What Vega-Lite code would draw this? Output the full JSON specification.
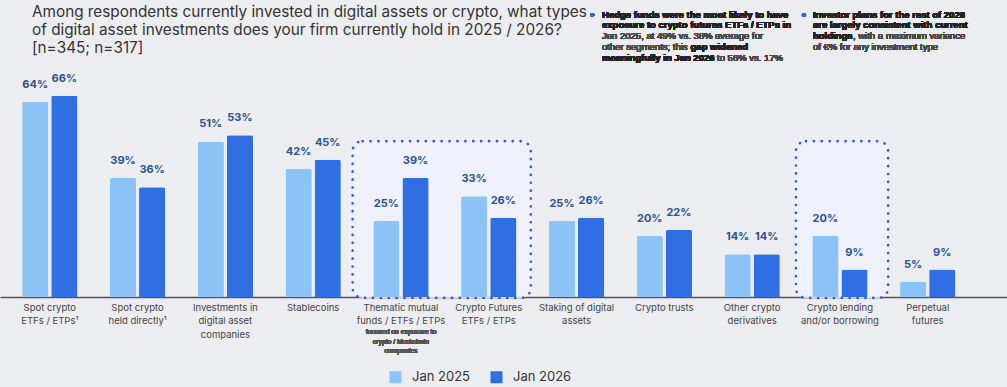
{
  "$schema": "https://vega.github.io/schema/vega-lite/v6.json",
  "width": 1007,
  "height": 213.5,
  "autosize": "none",
  "padding": {"top": 83.5, "left": 0, "right": 0, "bottom": 90},
  "background": "#ecedf0",
  "config": {"view": {"stroke": null}, "font": "Inter"},
  "title": {
    "text": ["Among respondents currently invested in digital assets or crypto, what types", "of digital asset investments does your firm currently hold in 2025 / 2026?", "[n=345; n=317]"],
    "anchor": "start",
    "frame": "group",
    "fontSize": 15.3,
    "fontWeight": "normal",
    "color": "#333333",
    "lineHeight": 18,
    "dx": 32,
    "dy": 58,
    "offset": 10
  },
  "data": {
    "values": [
      {"cat": "Spot crypto|ETFs / ETPs¹", "period": "Jan 2025", "value": 0.64},
      {"cat": "Spot crypto|ETFs / ETPs¹", "period": "Jan 2026", "value": 0.66},
      {"cat": "Spot crypto|held directly¹", "period": "Jan 2025", "value": 0.39},
      {"cat": "Spot crypto|held directly¹", "period": "Jan 2026", "value": 0.36},
      {"cat": "Investments in|digital asset|companies", "period": "Jan 2025", "value": 0.51},
      {"cat": "Investments in|digital asset|companies", "period": "Jan 2026", "value": 0.53},
      {"cat": "Stablecoins", "period": "Jan 2025", "value": 0.42},
      {"cat": "Stablecoins", "period": "Jan 2026", "value": 0.45},
      {"cat": "Thematic mutual|funds / ETFs / ETPs", "period": "Jan 2025", "value": 0.25},
      {"cat": "Thematic mutual|funds / ETFs / ETPs", "period": "Jan 2026", "value": 0.39},
      {"cat": "Crypto Futures|ETFs / ETPs", "period": "Jan 2025", "value": 0.33},
      {"cat": "Crypto Futures|ETFs / ETPs", "period": "Jan 2026", "value": 0.26},
      {"cat": "Staking of digital|assets", "period": "Jan 2025", "value": 0.25},
      {"cat": "Staking of digital|assets", "period": "Jan 2026", "value": 0.26},
      {"cat": "Crypto trusts", "period": "Jan 2025", "value": 0.20},
      {"cat": "Crypto trusts", "period": "Jan 2026", "value": 0.22},
      {"cat": "Other crypto|derivatives", "period": "Jan 2025", "value": 0.14},
      {"cat": "Other crypto|derivatives", "period": "Jan 2026", "value": 0.14},
      {"cat": "Crypto lending|and/or borrowing", "period": "Jan 2025", "value": 0.20},
      {"cat": "Crypto lending|and/or borrowing", "period": "Jan 2026", "value": 0.09},
      {"cat": "Perpetual|futures", "period": "Jan 2025", "value": 0.05},
      {"cat": "Perpetual|futures", "period": "Jan 2026", "value": 0.09}
    ]
  },
  "layer": [
    {
      "data": {"values": [{"x0": 3.95, "x1": 5.98}, {"x0": 9.0, "x1": 10.05}]},
      "mark": {"type": "rect", "fill": "#eef1fc", "fillOpacity": 0.85, "stroke": "#3552e0", "strokeWidth": 2.6, "strokeDash": [0.1, 7.8], "strokeCap": "round", "cornerRadius": 10},
      "encoding": {
        "x": {"field": "x0", "type": "quantitative", "scale": {"domain": [-0.0666, 11.404], "nice": false, "zero": false}, "axis": null},
        "x2": {"field": "x1"},
        "y": {"datum": 0.511, "type": "quantitative", "scale": {"domain": [0, 0.7], "nice": false}, "axis": null},
        "y2": {"datum": -0.003}
      }
    },
    {
      "encoding": {
        "x": {
          "field": "cat", "type": "nominal",
          "scale": {"type": "band", "paddingInner": 0.37, "paddingOuter": 0.42, "align": 0.3,
            "domain": ["Spot crypto|ETFs / ETPs¹", "Spot crypto|held directly¹", "Investments in|digital asset|companies", "Stablecoins", "Thematic mutual|funds / ETFs / ETPs", "Crypto Futures|ETFs / ETPs", "Staking of digital|assets", "Crypto trusts", "Other crypto|derivatives", "Crypto lending|and/or borrowing", "Perpetual|futures"]},
          "axis": {"title": null, "labelExpr": "split(datum.value, '|')", "ticks": false, "domainColor": "#555555", "domainWidth": 1.5, "labelFontSize": 9.5, "labelColor": "#444444", "labelLineHeight": 13.5, "labelPadding": 5, "labelAngle": 0, "labelOverlap": false, "labelBound": false, "labelLimit": 0}
        }
      },
      "layer": [
        {
          "mark": {"type": "bar", "cornerRadiusEnd": 2},
          "encoding": {
            "xOffset": {"field": "period", "type": "nominal", "scale": {"paddingInner": 0.1}},
            "y": {"field": "value", "type": "quantitative", "scale": {"domain": [0, 0.7], "nice": false}, "axis": null},
            "color": {"field": "period", "type": "nominal", "scale": {"domain": ["Jan 2025", "Jan 2026"], "range": ["#8cc3f6", "#2f6ee3"]},
              "legend": {"orient": "none", "legendX": 389, "legendY": 287, "direction": "horizontal", "title": null, "symbolType": "square", "symbolSize": 144, "labelFontSize": 13, "labelColor": "#333333", "columnPadding": 19, "labelOffset": 10, "symbolStrokeWidth": 0}}
          }
        },
        {
          "mark": {"type": "text", "fontSize": 11, "fontWeight": "bold", "color": "#2b5490", "baseline": "alphabetic", "dy": -14},
          "encoding": {
            "xOffset": {"field": "period", "type": "nominal"},
            "y": {"field": "value", "type": "quantitative"},
            "text": {"field": "value", "type": "quantitative", "format": ".0%"}
          }
        },
        {
          "mark": {"type": "text", "font": "Liberation Sans", "fontSize": 6.8, "color": "#555555", "baseline": "top", "dy": 32, "lineHeight": 9.5},
          "encoding": {
            "x": {"datum": "Thematic mutual|funds / ETFs / ETPs"},
            "y": {"datum": 0},
            "text": {"value": ["focused on exposure to", "crypto / blockchain", "companies"]}
          }
        },
        {
          "mark": {"type": "text", "font": "Liberation Sans", "fontSize": 9.5, "fontWeight": "bold", "color": "#222222", "align": "left", "baseline": "middle", "dx": 25.5},
          "encoding": {"x": {"datum": "Staking of digital|assets"}, "y": {"datum": 0.9256}, "text": {"value": "Hedge funds were the most likely to have"}}
        },
        {
          "mark": {"type": "text", "font": "Liberation Sans", "fontSize": 9.5, "fontWeight": "bold", "color": "#222222", "align": "left", "baseline": "middle", "dx": 25.5},
          "encoding": {"x": {"datum": "Staking of digital|assets"}, "y": {"datum": 0.8905}, "text": {"value": "exposure to crypto futures ETFs / ETPs in"}}
        },
        {
          "mark": {"type": "text", "font": "Liberation Sans", "fontSize": 9.5, "color": "#4a4a4a", "align": "left", "baseline": "middle", "dx": 25.5},
          "encoding": {"x": {"datum": "Staking of digital|assets"}, "y": {"datum": 0.8554}, "text": {"value": "Jan 2025, at 49% vs. 36% average for"}}
        },
        {
          "mark": {"type": "text", "font": "Liberation Sans", "fontSize": 9.5, "color": "#4a4a4a", "align": "left", "baseline": "middle", "dx": 25.5},
          "encoding": {"x": {"datum": "Staking of digital|assets"}, "y": {"datum": 0.8203}, "text": {"value": "other segments; this"}}
        },
        {
          "mark": {"type": "text", "font": "Liberation Sans", "fontSize": 9.5, "fontWeight": "bold", "color": "#222222", "align": "left", "baseline": "middle", "dx": 114},
          "encoding": {"x": {"datum": "Staking of digital|assets"}, "y": {"datum": 0.8203}, "text": {"value": "gap widened"}}
        },
        {
          "mark": {"type": "text", "font": "Liberation Sans", "fontSize": 9.5, "fontWeight": "bold", "color": "#222222", "align": "left", "baseline": "middle", "dx": 25.5},
          "encoding": {"x": {"datum": "Staking of digital|assets"}, "y": {"datum": 0.7852}, "text": {"value": "meaningfully in Jan 2026"}}
        },
        {
          "mark": {"type": "text", "font": "Liberation Sans", "fontSize": 9.5, "color": "#4a4a4a", "align": "left", "baseline": "middle", "dx": 140.5},
          "encoding": {"x": {"datum": "Staking of digital|assets"}, "y": {"datum": 0.7852}, "text": {"value": "to 56% vs. 17%"}}
        },
        {
          "mark": {"type": "text", "font": "Liberation Sans", "fontSize": 9.5, "fontWeight": "bold", "color": "#222222", "align": "left", "baseline": "middle", "dx": -27},
          "encoding": {"x": {"datum": "Crypto lending|and/or borrowing"}, "y": {"datum": 0.9256}, "text": {"value": "Investor plans for the rest of 2026"}}
        },
        {
          "mark": {"type": "text", "font": "Liberation Sans", "fontSize": 9.5, "fontWeight": "bold", "color": "#222222", "align": "left", "baseline": "middle", "dx": -27},
          "encoding": {"x": {"datum": "Crypto lending|and/or borrowing"}, "y": {"datum": 0.8905}, "text": {"value": "are largely consistent with current"}}
        },
        {
          "mark": {"type": "text", "font": "Liberation Sans", "fontSize": 9.5, "fontWeight": "bold", "color": "#222222", "align": "left", "baseline": "middle", "dx": -27},
          "encoding": {"x": {"datum": "Crypto lending|and/or borrowing"}, "y": {"datum": 0.8554}, "text": {"value": "holdings"}}
        },
        {
          "mark": {"type": "text", "font": "Liberation Sans", "fontSize": 9.5, "color": "#4a4a4a", "align": "left", "baseline": "middle", "dx": 13},
          "encoding": {"x": {"datum": "Crypto lending|and/or borrowing"}, "y": {"datum": 0.8554}, "text": {"value": ", with a maximum variance"}}
        },
        {
          "mark": {"type": "text", "font": "Liberation Sans", "fontSize": 9.5, "color": "#4a4a4a", "align": "left", "baseline": "middle", "dx": -27},
          "encoding": {"x": {"datum": "Crypto lending|and/or borrowing"}, "y": {"datum": 0.8203}, "text": {"value": "of €% for any investment type"}}
        },
        {
          "mark": {"type": "text", "fontSize": 12, "color": "#3a5ee0", "align": "center", "baseline": "middle", "dx": 15.5, "dy": -0.5},
          "encoding": {"x": {"datum": "Staking of digital|assets"}, "y": {"datum": 0.9256}, "text": {"value": "•"}}
        },
        {
          "mark": {"type": "text", "fontSize": 12, "color": "#3a5ee0", "align": "center", "baseline": "middle", "dx": -36, "dy": -0.5},
          "encoding": {"x": {"datum": "Crypto lending|and/or borrowing"}, "y": {"datum": 0.9256}, "text": {"value": "•"}}
        }
      ]
    }
  ],
  "resolve": {"scale": {"x": "independent"}}
}
